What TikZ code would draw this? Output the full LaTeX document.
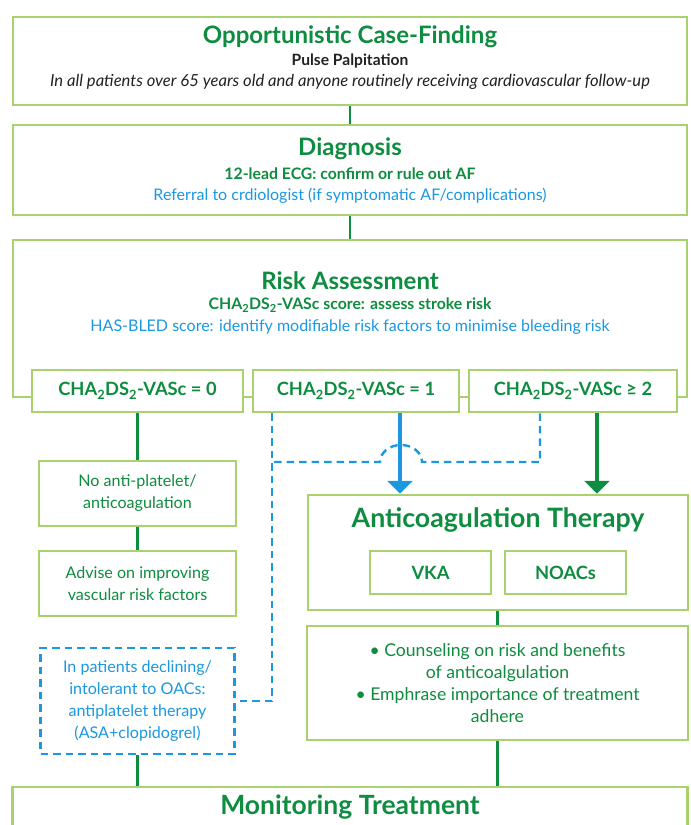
\documentclass[tikz,border=0pt]{standalone}
\usepackage{fontspec}
\setmainfont{Lato}
\usetikzlibrary{arrows.meta,calc}
\definecolor{lg}{HTML}{A9D26F}
\definecolor{dg}{HTML}{0E8C3F}
\definecolor{bl}{HTML}{1B98E0}
\definecolor{tx}{HTML}{222222}
\begin{document}
\begin{tikzpicture}[x=1pt,y=-1pt,
  box/.style={draw=lg,line width=2.5pt,fill=white,inner sep=0pt},
  dbox/.style={draw=bl,line width=2.4pt,dash pattern=on 7.5pt off 5pt,fill=white,inner sep=0pt},
  gline/.style={draw=dg,line width=2.5pt},
  dline/.style={draw=bl,line width=2.4pt,dash pattern=on 7.5pt off 5pt},
  barrow/.style={draw=bl,line width=3.5pt,-{Triangle[width=25pt,length=13pt]}},
  garrow/.style={draw=dg,line width=3.5pt,-{Triangle[width=25pt,length=13pt]}},
  ttl/.style={text=dg,font=\fontsize{24}{27}\selectfont\bfseries,inner sep=0pt},
  sub/.style={text=dg,font=\fontsize{15.8}{18}\selectfont\bfseries,inner sep=0pt},
  bt/.style={text=bl,font=\fontsize{16}{18}\selectfont,inner sep=0pt},
  cha/.style={text=dg,font=\fontsize{18.3}{20}\selectfont\bfseries,inner sep=0pt},
  gt/.style={text=dg,font=\fontsize{16.1}{22}\selectfont,align=center,inner sep=0pt},
]
\useasboundingbox (0,0) rectangle (691,825);
\begin{scope}
\clip (0,0) rectangle (691,825);
% boxes
\node[box,minimum width=674pt,minimum height=88pt] (b1) at (350,61) {};
\node[box,minimum width=674pt,minimum height=90pt] (b2) at (350,170) {};
\node[box,minimum width=674pt,minimum height=157pt] (b3) at (350,318.5) {};
\node[box,minimum width=211pt,minimum height=42pt] (ca) at (137.5,391) {};
\node[box,minimum width=206pt,minimum height=42pt] (cb) at (356,391) {};
\node[box,minimum width=208pt,minimum height=42pt] (cc) at (573,391) {};
\node[box,minimum width=197pt,minimum height=65pt] (na) at (137.5,493.5) {};
\node[box,minimum width=197pt,minimum height=65pt] (ad) at (137.5,583.5) {};
\node[dbox,minimum width=194pt,minimum height=106pt] (dx) at (137.5,701) {};
\node[box,minimum width=380pt,minimum height=115pt] (ac) at (498,552.5) {};
\node[box,minimum width=121pt,minimum height=43pt] (vka) at (430.5,572.5) {};
\node[box,minimum width=121pt,minimum height=43pt] (noa) at (565.5,572.5) {};
\node[box,minimum width=381pt,minimum height=114pt] (co) at (497.5,683) {};
\node[box,minimum width=675pt,minimum height=86pt] (mo) at (350,830) {};
% connectors
\draw[gline] (b1.south) -- (b2.north);
\draw[gline] (b2.south) -- (b3.north);
\draw[gline] (ca.south) -- (na.north);
\draw[gline] (na.south) -- (ad.north);
\draw[gline] (dx.south) -- (dx.south |- mo.north);
\draw[gline] (ac.south -| co.north) -- (co.north);
\draw[gline] (co.south) -- (co.south |- mo.north);
\draw[dline] ($(cb.south)+(-84,0)$) |- (dx.east);
\coordinate (jr) at (422,462);
\coordinate (jl) at (272,462);
\draw[dline] ($(cc.south)+(-33,0)$) |- (jr) arc[start angle=0,end angle=180,x radius=21pt,y radius=17pt] -- (jl);
\draw[barrow] ($(cb.south)+(44,0)$) -- ($(ac.north)+(-98,0)$);
\draw[garrow] ($(cc.south)+(24,0)$) -- ($(ac.north)+(99,0)$);
% texts
\node[ttl] (t1) at (350,37) {Opportunistic Case-Finding};
\node[text=tx,font=\fontsize{15.6}{17}\selectfont\bfseries,inner sep=0pt] (t1b) at (350,61) {Pulse Palpitation};
\node[text=tx,font=\fontsize{16.6}{18}\selectfont\itshape,inner sep=0pt] (t1c) at (350,82) {In all patients over 65 years old and anyone routinely receiving cardiovascular follow-up};
\node[ttl] (t2) at (350,149) {Diagnosis};
\node[sub] (t2b) at (350,174) {12-lead ECG: confirm or rule out AF};
\node[bt] (t2c) at (350,196) {Referral to crdiologist (if symptomatic AF/complications)};
\node[ttl] (t3) at (350,281) {Risk Assessment};
\node[sub] (t3b) at (350,305) {CHA\textsubscript{2}DS\textsubscript{2}-VASc score: assess stroke risk};
\node[bt] (t3c) at (350,327) {HAS-BLED score: identify modifiable risk factors to minimise bleeding risk};
\node[cha] at (ca) {CHA\textsubscript{2}DS\textsubscript{2}-VASc = 0};
\node[cha] at (cb) {CHA\textsubscript{2}DS\textsubscript{2}-VASc = 1};
\node[cha] at (cc) {CHA\textsubscript{2}DS\textsubscript{2}-VASc ≥ 2};
\node[gt] at (na) {No anti-platelet/\\anticoagulation};
\node[gt] at (ad) {Advise on improving\\vascular risk factors};
\node[gt,text=bl] at (dx) {In patients declining/\\intolerant to OACs:\\antiplatelet therapy\\(ASA+clopidogrel)};
\node[ttl,font=\fontsize{26.7}{29}\selectfont\bfseries] (t4) at (498,520) {Anticoagulation Therapy};
\node[cha] at (vka) {VKA};
\node[cha] at (noa) {NOACs};
\node[gt,font=\fontsize{17.6}{22}\selectfont] at (co) {• Counseling on risk and benefits\\of anticoalgulation\\• Emphrase importance of treatment\\adhere};
\node[ttl,font=\fontsize{26.5}{29}\selectfont\bfseries] (t5) at (350,807) {Monitoring Treatment};
\end{scope}
\end{tikzpicture}
\end{document}
